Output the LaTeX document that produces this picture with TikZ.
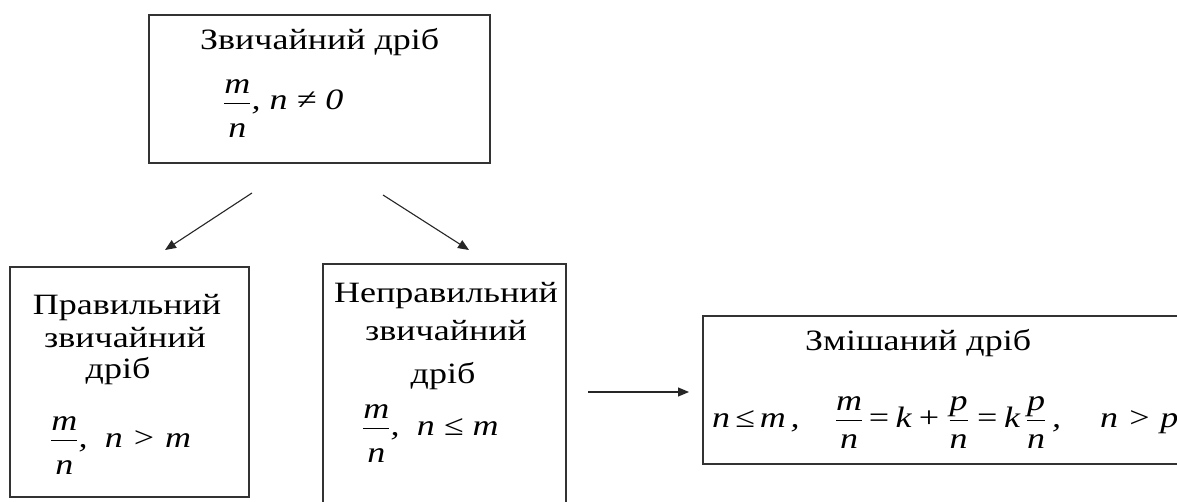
\documentclass[tikz,border=0pt]{standalone}
\usepackage{amsmath}
\usepackage{fontspec}
\setmainfont{Liberation Serif}[FakeStretch=1.22]
\usetikzlibrary{arrows.meta}
\newcommand{\fr}[2]{\ensuremath{\dfrac{\text{\itshape #1}\rule[-5pt]{0pt}{0pt}}{\rule{0pt}{30pt}\text{\itshape #2}}}}
\newcommand{\frs}[2]{\ensuremath{\dfrac{\text{\itshape #1}\rule[-5pt]{0pt}{0pt}}{\rule{0pt}{24pt}\text{\itshape #2}}}}
\tikzset{
  box/.style={draw=black!80, line width=1.4pt, inner sep=0pt},
  txt/.style={inner sep=0pt, anchor=base, font=\fontsize{29.5}{34}\selectfont},
  txtw/.style={txt, anchor=base west},
  arr/.style={draw=black!85, line width=1.1pt, -{Triangle[length=11pt,width=9pt]}}
}
\begin{document}
\begin{tikzpicture}[x=1pt,y=-1pt]
\clip (0,0) rectangle (1177,502);
\fill[white] (0,0) rectangle (1177,502);
% boxes
\node[box, minimum width=341pt, minimum height=148pt] (top) at (319.5,89) {};
\node[box, minimum width=239pt, minimum height=230pt] (left) at (129.5,382) {};
\node[box, minimum width=243pt, minimum height=256pt] (mid) at (444.5,392) {};
\node[box, minimum width=490pt, minimum height=148pt] (right) at (948,390) {};
% texts
\node[txtw] (t1) at (200,50) {Звичайний дріб};
\node[txtw] (t2) at (223,110) {\fr{m}{n}\textit{, n ≠ 0}};
\node[txt] (l1) at (127,315) {Правильний};
\node[txt] (l2) at (125,347) {звичайний};
\node[txt] (l3) at (118,378) {дріб};
\node[txtw] (l4) at (50,447) {\fr{m}{n}\textit{,\; n > m}};
\node[txt] (m1) at (446,303) {Неправильний};
\node[txt] (m2) at (446,340) {звичайний};
\node[txt] (m3) at (443,383) {дріб};
\node[txtw] (m4) at (362,435) {\fr{m}{n}\textit{,\; n ≤ m}};
\node[txtw] (r1) at (805,350) {Змішаний дріб};
\node[txtw] (r2) at (712,427) {\makebox[121pt][l]{\textit{n\,≤\,m\,,}}\makebox[32pt][c]{\frs{m}{n}}\makebox[77pt][c]{\textit{=\,k\,+}}\makebox[33pt][c]{\frs{p}{n}}\makebox[45pt][c]{\textit{=\,k}}\makebox[32pt][c]{\frs{p}{n}}\makebox[48pt][l]{\textit{,}}\textit{n > p}};
% arrows
\coordinate (a1s) at (252,193);
\coordinate (a1e) at (165,250);
\coordinate (a2s) at (383,195);
\coordinate (a2e) at (469,250);
\coordinate (a3s) at (588,392);
\coordinate (a3e) at (689,392);
\draw[arr] (a1s) -- (a1e);
\draw[arr] (a2s) -- (a2e);
\draw[arr] (a3s) -- (a3e);
\end{tikzpicture}
\end{document}
